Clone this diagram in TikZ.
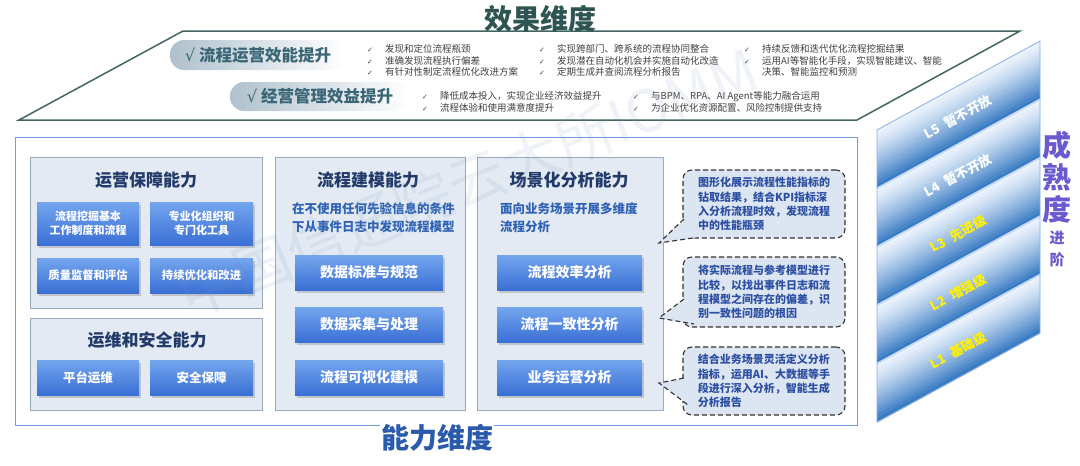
\documentclass[tikz,border=0pt]{standalone}
\usepackage{fontspec}
\setmainfont{Noto Sans CJK SC}
\newfontfamily\symf{DejaVu Sans}
\usetikzlibrary{shadows}
\usepackage{xcolor}
\newcommand\fsz[2]{\fontsize{#1}{#2}\selectfont}
\newcommand\chk{\makebox[18pt][l]{{\symf\fsz{7}{9}✓}}}
\newcommand\tick{{\symf\mdseries √}}
\definecolor{effdark}{HTML}{2F5552}
\definecolor{pillc}{HTML}{AFC1CD}
\definecolor{pilltxt}{HTML}{3A6676}
\definecolor{bultxt}{HTML}{404040}
\definecolor{frameblue}{HTML}{6E9AE0}
\definecolor{panelfill}{HTML}{E3EAF3}
\definecolor{panelline}{HTML}{9AA9BA}
\definecolor{navy}{HTML}{213A69}
\definecolor{btntop}{HTML}{74A6EE}
\definecolor{btnbot}{HTML}{3A6FD5}
\definecolor{desctxt}{HTML}{2F62B5}
\definecolor{calfill}{HTML}{DCE5F2}
\definecolor{caltxt}{HTML}{2D4FA3}
\definecolor{abltxt}{HTML}{2A5AAA}
\definecolor{lvlight}{HTML}{EAF2FC}
\definecolor{lvdark}{HTML}{3A7CC4}
\definecolor{lvedge}{HTML}{C4DAF6}
\definecolor{matc}{HTML}{6A5AD0}
\definecolor{wmark}{HTML}{7D95C0}

\begin{document}
\begin{tikzpicture}[x=1pt, y=-1pt,
  pill/.style={left color=pillc, middle color=pillc!70!white, right color=white, rounded corners=14pt,
    text=pilltxt, font=\bfseries\fsz{16.5}{19}, inner sep=0},
  bul/.style={anchor=north west, inner sep=0, align=left, font=\fsz{9.5}{11.6}, text=bultxt},
  panel/.style={draw=panelline, fill=panelfill, line width=0.8pt, anchor=north west, inner sep=0},
  ptitle/.style={text=navy, font=\bfseries\fsz{17}{20}, inner sep=0},
  btn/.style={top color=btntop, bottom color=btnbot, text=white, align=center, inner sep=0,
    font=\bfseries\fsz{12.5}{15},
    drop shadow={shadow xshift=1.5pt, shadow yshift=-2.5pt, opacity=0.35}},
  desc/.style={anchor=north west, inner sep=0, align=left, text=desctxt, font=\bfseries\fsz{12.5}{18}},
  callout/.style={draw=black!80, dash pattern=on 5pt off 3pt, line width=1.1pt, rounded corners=9pt,
    fill=calfill, text=caltxt, align=left, font=\bfseries\fsz{11}{14.3},
    minimum width=162pt},
  tail/.style={fill=calfill, draw=black!80, dash pattern=on 5pt off 3pt, line width=1.1pt},
  lvtext/.style={rotate=28.5, font=\bfseries\fsz{13}{15}, inner sep=0}]
\useasboundingbox (0,0) rectangle (1080,466);
\fill[white] (0,0) rectangle (1080,466);

% effect dimension
\draw[effdark!90, line width=1.5pt] (19,120) -- (183,31) -- (1020,31) -- (857,120) -- cycle;
\node[text=effdark, font=\bfseries\fsz{28}{30}] (efftitle) at (540,19) {效果维度};
\node[pill, minimum width=176pt, minimum height=30pt] (eff1) at (258,55) {\tick\ 流程运营效能提升\hspace{6pt}};
\node[pill, minimum width=180pt, minimum height=29pt] (eff2) at (320,96.5) {\tick\ 经营管理效益提升\hspace{6pt}};
\node[bul] (r1c1) at (367,44.5) {\chk 发现和定位流程瓶颈\\\chk 准确发现流程执行偏差\\\chk 有针对性制定流程优化改进方案};
\node[bul] (r1c2) at (539,44.5) {\chk 实现跨部门、跨系统的流程协同整合\\\chk 发现潜在自动化机会并实施自动化改造\\\chk 定期生成并查阅流程分析报告};
\node[bul] (r1c3) at (744,44.5) {\chk 持续反馈和迭代优化流程挖掘结果\\\chk 运用AI等智能化手段，实现智能建议、智能\\\hspace*{18pt}决策、智能监控和预测};
\node[bul] (r2c1) at (422,91.5) {\chk 降低成本投入，实现企业经济效益提升\\\chk 流程体验和使用满意度提升};
\node[bul] (r2c2) at (633,91.5) {\chk 与BPM、RPA、AI Agent等能力融合运用\\\chk 为企业优化资源配置、风险控制提供支持};

% capability dimension
\draw[frameblue, line width=1pt] (15,137) rectangle (857,425);
\node[panel, minimum width=232pt, minimum height=151pt] (p1) at (30,157) {};
\node[panel, minimum width=232pt, minimum height=92pt] (p2) at (30,318) {};
\node[panel, minimum width=190pt, minimum height=253pt] (p3) at (275,157) {};
\node[panel, minimum width=186pt, minimum height=253pt] (p4) at (477,157) {};

\node[ptitle] (p1t) at (146,180) {运营保障能力};
\node[btn, minimum width=102pt, minimum height=43pt, font=\bfseries\fsz{11}{14}] (b11) at (88,223.5) {流程挖掘基本\\工作制度和流程};
\node[btn, minimum width=103pt, minimum height=43pt, font=\bfseries\fsz{11}{14}] (b12) at (201.5,223.5) {专业化组织和\\专门化工具};
\node[btn, minimum width=102pt, minimum height=35pt, font=\bfseries\fsz{11.3}{14}] (b13) at (88,275.5) {质量监督和评估};
\node[btn, minimum width=103pt, minimum height=35pt, font=\bfseries\fsz{11.3}{14}] (b14) at (201.5,275.5) {持续优化和改进};

\node[ptitle] (p2t) at (147,340) {运维和安全能力};
\node[btn, minimum width=102pt, minimum height=35pt] (b21) at (88,377.5) {平台运维};
\node[btn, minimum width=103pt, minimum height=35pt] (b22) at (201.5,377.5) {安全保障};

\node[ptitle] (p3t) at (368,180) {流程建模能力};
\node[desc] (p3d) at (292,202) {在不使用任何先验信息的条件\\下从事件日志中发现流程模型};
\node[btn, minimum width=148pt, minimum height=35pt, font=\bfseries\fsz{14}{16}] (b31) at (369,272.5) {数据标准与规范};
\node[btn, minimum width=148pt, minimum height=35pt, font=\bfseries\fsz{14}{16}] (b32) at (369,324.5) {数据采集与处理};
\node[btn, minimum width=148pt, minimum height=35pt, font=\bfseries\fsz{14}{16}] (b33) at (369,377.5) {流程可视化建模};

\node[ptitle] (p4t) at (569,180) {场景化分析能力};
\node[desc] (p4d) at (500,202) {面向业务场景开展多维度\\流程分析};
\node[btn, minimum width=145pt, minimum height=35pt, font=\bfseries\fsz{14}{16}] (b41) at (569.5,272.5) {流程效率分析};
\node[btn, minimum width=145pt, minimum height=35pt, font=\bfseries\fsz{14}{16}] (b42) at (569.5,324.5) {流程一致性分析};
\node[btn, minimum width=145pt, minimum height=35pt, font=\bfseries\fsz{14}{16}] (b43) at (569.5,377.5) {业务运营分析};

% callouts
\node[callout, minimum height=68pt] (c1) at (764,204) {图形化展示流程性能指标的\\钻取结果，结合KPI指标深\\入分析流程时效，发现流程\\中的性能瓶颈};
\node[callout, minimum height=70pt] (c2) at (764,292) {将实际流程与参考模型进行\\比较，以找出事件日志和流\\程模型之间存在的偏差，识\\别一致性问题的根因};
\node[callout, minimum height=68pt] (c3) at (764,381) {结合业务场景灵活定义分析\\指标，运用AI、大数据等手\\段进行深入分析，智能生成\\分析报告};
\coordinate (tip1) at (659,243);
\coordinate (tip2) at (659,318);
\coordinate (tip3) at (659,383);
\path[tail] (684,219) -- (tip1) -- (696,237.5);
\path[tail] (684,299) -- (tip2) -- (694,324);
\path[tail] (684,378) -- (tip3) -- (688,405);

\node[fill=white, text=abltxt, font=\bfseries\fsz{28}{30}, inner sep=1pt] (abltitle) at (437,438) {能力维度};

% maturity levels
\foreach \k in {0,...,4}{
  \foreach \i in {0,...,14}{
    \pgfmathsetmacro{\pc}{100*(\i/14)^1.3}
    \fill[lvdark!\pc!lvlight] (877,{130+\k*58.4+\i*58.4/15}) -- ++(163,-89) -- ++(0,{58.4/15+0.5}) -- ++(-163,89) -- cycle;
  }
}
\foreach \k in {1,...,4}
  \draw[lvedge, line width=1.8pt] (877,{130+\k*58.4}) -- ++(163,-89);
\draw[frameblue!80, line width=0.8pt] (877,130) -- (1040,41) -- (1040,333) -- (877,422) -- cycle;
\node[lvtext, text=white] (l5) at (958,117) {L5\hspace{7pt}暂不开放};
\node[lvtext, text=white] (l4) at (958,175.4) {L4\hspace{7pt}暂不开放};
\node[lvtext, text=yellow] (l3) at (958,233.8) {L3\hspace{7pt}先进级};
\node[lvtext, text=yellow] (l2) at (958,292.2) {L2\hspace{7pt}增强级};
\node[lvtext, text=yellow] (l1) at (958,350.6) {L1\hspace{7pt}基础级};
\node[text=matc, align=center, font=\bfseries\fsz{29}{32}, inner sep=0] (mat) at (1057,177) {成\\熟\\度};
\node[text=matc, align=center, font=\bfseries\fsz{15}{22}, inner sep=0] (adv) at (1057,249) {进\\阶};

% watermark
\node[text=wmark, opacity=0.12, rotate=22, font=\fsz{58}{60}] (wm) at (468,182) {中国信通院云大所IOMM};
\end{tikzpicture}
\end{document}
